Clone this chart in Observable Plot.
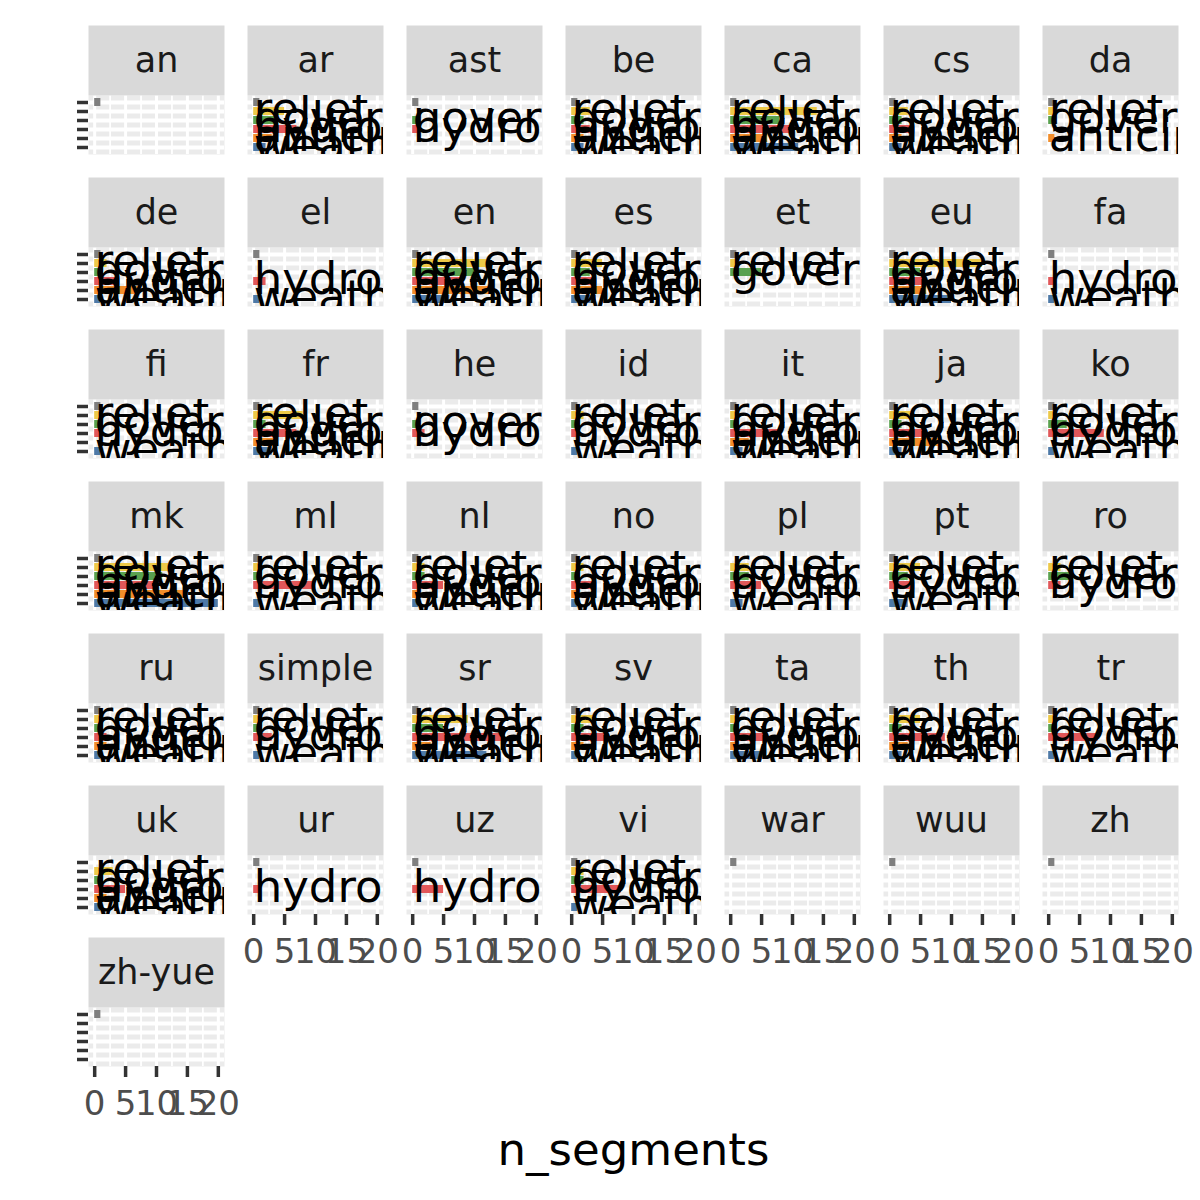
<!DOCTYPE html>
<html><head><meta charset="utf-8">
<script src="https://cdn.jsdelivr.net/npm/d3@7"></script>
<script src="https://cdn.jsdelivr.net/npm/@observablehq/plot@0.6"></script>
<style>body{margin:0;background:#fff;} svg{display:block}</style>
</head><body><div id="chart"></div>
<script>
const languages = ["an","ar","ast","be","ca","cs","da",
  "de","el","en","es","et","eu","fa",
  "fi","fr","he","id","it","ja","ko",
  "mk","ml","nl","no","pl","pt","ro",
  "ru","simple","sr","sv","ta","th","tr",
  "uk","ur","uz","vi","war","wuu","zh",
  "zh-yue"];
const categories = ["NA","relief","government","hydrology","anticipation","weather"];
const categoryLabels = ["","relief","government","hydrology","anticipation","weather"];
const categoryColors = ["#7F7F7F","#EDC948","#59A14F","#E15759","#F28E2B","#4E79A7"];
// n_segments per language (same order as languages)
const naValues =           [1,1,1,1,1,1,1, 1,1,1,1,1,1,1, 1,1,1,1,1,1,1, 1,1,1,1,0,1,0, 1,1,1,1,1,1,1, 0,1,1,1,1,1,1, 1];
const reliefValues =       [0,5,0,3,14,3,1, 2,0,12,5,1,15,0, 1,8,0,2,1,4,1, 12,1,2,2,3,5,2, 1,1,9,4,1,5,1, 3,0,0,2,0,0,0, 0];
const governmentValues =   [0,4,1,2,8,2,1, 1,0,10,3,5,5,0, 1,2,1,1,1,2,3, 11,1,2,1,3,3,4, 1,1,5,2,1,2,1, 1,0,0,2,0,0,0, 0];
const hydrologyValues =    [0,7,1,3,10,4,0, 4,2,8,4,0,6,1, 1,7,2,1,8,6,9, 10,10,5,4,5,4,2, 2,3,15,6,6,9,8, 5,1,5,8,0,0,0, 0];
const anticipationValues = [0,3,0,2,6,2,1, 7,0,13,5,0,6,0, 0,4,0,0,3,8,0, 15,0,1,1,0,0,0, 2,0,3,2,1,3,0, 2,0,0,0,0,0,0, 0];
const weatherValues =      [0,2,0,2,11,2,0, 1,1,6,4,0,10,1, 1,3,0,1,2,2,1, 20,1,1,1,2,3,0, 1,1,12,1,5,2,1, 1,0,0,1,0,0,0, 0];
const xTicks = [0,5,10,15,20];
const xMinorTicks = [2.5,7.5,12.5,17.5];
const xTitle = "n_segments";
const nCols = 7;

const seriesByCategory = [naValues, reliefValues, governmentValues, hydrologyValues, anticipationValues, weatherValues];
const rows = [];
languages.forEach((lang, i) => {
  categories.forEach((cat, j) => {
    const n = seriesByCategory[j][i];
    if (n > 0) rows.push({lang, cat, n, label: categoryLabels[j], fx: i % nCols, fy: Math.floor(i / nCols)});
  });
});
const strips = languages.map((lang, i) => ({lang, fx: i % nCols, fy: Math.floor(i / nCols)}));

const fyPad = 0.614, fyStep = (1200 - 92 - 131) / (7 - fyPad);
const panelH = fyStep * (1 - fyPad);

const chart = Plot.plot({
  width: 1200, height: 1200,
  marginTop: 92, marginBottom: 131, marginLeft: 88, marginRight: 22,
  style: {fontFamily: "'DejaVu Sans', sans-serif", background: "white", color: "black"},
  x: {domain: [-1, 21]},
  y: {domain: categories, paddingInner: 0.15, paddingOuter: 0.075, align: 0.5},
  fx: {domain: d3.range(7), paddingInner: 0.145, paddingOuter: 0, axis: null},
  fy: {domain: d3.range(7), paddingInner: fyPad, paddingOuter: 0, axis: null},
  color: {domain: categories, range: categoryColors},
  marks: [
    Plot.frame({fill: "#EBEBEB", stroke: "none"}),
    Plot.ruleX(xMinorTicks, {stroke: "white", strokeWidth: 1.8}),
    Plot.ruleX(xTicks, {stroke: "white", strokeWidth: 3}),
    Plot.ruleY(categories, {stroke: "white", strokeWidth: 3.8}),
    Plot.frame({fill: "#D9D9D9", stroke: "none", insetTop: -70, insetBottom: panelH}),
    Plot.text(strips, {fx: "fx", fy: "fy", text: "lang", frameAnchor: "top", lineAnchor: "middle", dy: -35, fontSize: 35, fill: "#1A1A1A"}),
    Plot.barX(rows, {x: "n", y: "cat", fill: "cat", fx: "fx", fy: "fy"}),
    Plot.text(rows.filter(d => d.label), {fx: "fx", fy: "fy", x: d => 0, y: "cat", text: "label", textAnchor: "start", fontSize: 45, fill: "black", dy: -2, clip: true}),
    Plot.axisX({ticks: xTicks, tickSize: 11, strokeWidth: 3.5, color: "#333333", tickFormat: () => "", label: null, facetAnchor: "bottom-empty"}),
    Plot.axisX({ticks: xTicks, tickSize: 0, tickPadding: 24, color: "#4D4D4D", fontSize: 34, label: null, facetAnchor: "bottom-empty"}),
    Plot.axisY({tickSize: 11, strokeWidth: 3.5, color: "#333333", tickFormat: () => "", label: null, facetAnchor: "left"}),
    Plot.text([xTitle], {text: d => d, frameAnchor: "bottom", lineAnchor: "middle", dy: 84, fontSize: 45, fill: "black", facet: "super"})
  ]
});
document.getElementById("chart").appendChild(chart);
</script>
</body></html>
